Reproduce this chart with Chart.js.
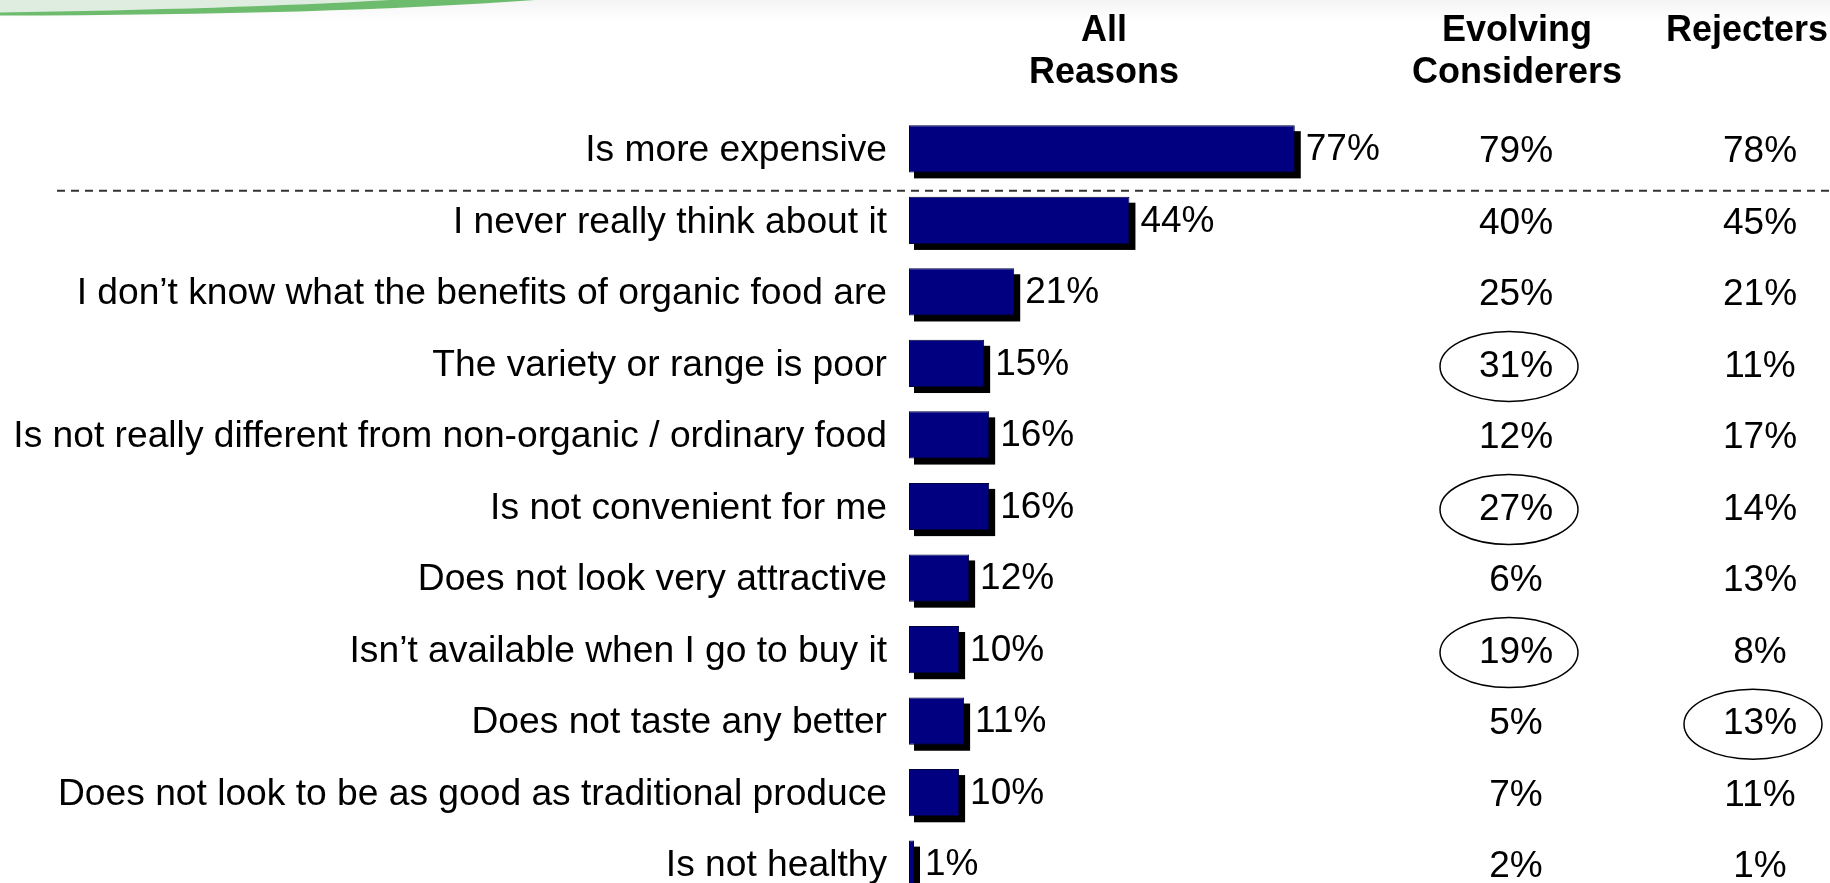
<!DOCTYPE html>
<html>
<head>
<meta charset="utf-8">
<title>Reasons for not buying organic food</title>
<script src="https://cdn.jsdelivr.net/npm/chart.js@4.4.1/dist/chart.umd.min.js"></script>
<style>
    html, body { margin: 0; padding: 0; background: #ffffff; overflow: hidden; }
    #wrap { position: absolute; left: 0; top: 0; width: 1830px; height: 900px; }
</style>
</head>
<body>
<div id="wrap"><canvas id="reasonsChart" width="1830" height="900"></canvas></div>
<script>
const reasons = [
    "Is more expensive",
    "I never really think about it",
    "I don\u2019t know what the benefits of organic food are",
    "The variety or range is poor",
    "Is not really different from non-organic / ordinary food",
    "Is not convenient for me",
    "Does not look very attractive",
    "Isn\u2019t available when I go to buy it",
    "Does not taste any better",
    "Does not look to be as good as traditional produce",
    "Is not healthy"
];
const allReasons = [77, 44, 21, 15, 16, 16, 12, 10, 11, 10, 1];
const evolvingConsiderers = [79, 40, 25, 31, 12, 27, 6, 19, 5, 7, 2];
const rejecters = [78, 45, 21, 11, 17, 14, 13, 8, 13, 11, 1];
const evolvingCircled = ["The variety or range is poor", "Is not convenient for me", "Isn\u2019t available when I go to buy it"];
const rejectersCircled = ["Does not taste any better"];
const headers = [["All", "Reasons"], ["Evolving", "Considerers"], ["Rejecters"]];

const FONT = "'Liberation Sans', Arial, sans-serif";

document.addEventListener("DOMContentLoaded", function () {
    // green swoosh in the top-left corner
    const backdrop = {
        id: "backdrop",
        beforeDraw(chart) {
            const ctx = chart.ctx;
            ctx.save();
            const g = ctx.createLinearGradient(0, 0, 0, 22);
            g.addColorStop(0, "#f4f4f4");
            g.addColorStop(1, "#ffffff");
            ctx.fillStyle = g;
            ctx.fillRect(0, 0, chart.width, 22);

            ctx.fillStyle = "#dfede0";
            ctx.beginPath();
            ctx.moveTo(0, 0);
            ctx.lineTo(0, 13);
            ctx.quadraticCurveTo(230, 9, 390, 0);
            ctx.closePath();
            ctx.fill();

            ctx.fillStyle = "#6dbb6d";
            ctx.beginPath();
            ctx.moveTo(0, 12.5);
            ctx.quadraticCurveTo(230, 9, 390, 0);
            ctx.lineTo(535, 0);
            ctx.quadraticCurveTo(330, 15, 0, 15.5);
            ctx.closePath();
            ctx.fill();
            ctx.restore();
        }
    };

    // hard black drop shadow behind each bar
    const barShadow = {
        id: "barShadow",
        beforeDatasetsDraw(chart) {
            const ctx = chart.ctx;
            ctx.save();
            ctx.fillStyle = "#000000";
            chart.getDatasetMeta(0).data.forEach(bar => {
                const p = bar.getProps(["x", "y", "base", "height"], true);
                ctx.fillRect(p.base + 5, p.y - p.height / 2 + 6, p.x - p.base + 1, p.height);
            });
            ctx.restore();
        }
    };

    const tableText = {
        id: "tableText",
        afterDraw(chart) {
            const ctx = chart.ctx;
            const yScale = chart.scales.y;
            ctx.save();
            ctx.fillStyle = "#000000";

            // column headers
            ctx.font = "bold 36px " + FONT;
            ctx.textAlign = "center";
            ctx.textBaseline = "alphabetic";
            const headerX = [1104, 1517, 1747];
            headers.forEach((lines, c) => {
                lines.forEach((t, k) => ctx.fillText(t, headerX[c], 41 + k * 42));
            });

            // values next to the bars
            ctx.font = "37px " + FONT;
            ctx.textAlign = "left";
            ctx.textBaseline = "middle";
            chart.getDatasetMeta(0).data.forEach((bar, i) => {
                ctx.fillText(allReasons[i] + "%", bar.x + 11, bar.y + 1);
            });

            // segment columns
            ctx.textAlign = "center";
            const cols = [
                { x: 1516, values: evolvingConsiderers, circled: evolvingCircled },
                { x: 1760, values: rejecters, circled: rejectersCircled }
            ];
            cols.forEach(col => {
                col.values.forEach((v, i) => {
                    const y = yScale.getPixelForValue(i);
                    ctx.fillText(v + "%", col.x, y + 3);
                    if (col.circled.includes(reasons[i])) {
                        ctx.beginPath();
                        ctx.lineWidth = 1.5;
                        ctx.strokeStyle = "#000000";
                        ctx.ellipse(col.x - 7, y + 3, 69, 35, 0, 0, Math.PI * 2);
                        ctx.stroke();
                    }
                });
            });

            // dashed divider under the first reason
            const yDash = yScale.getPixelForValue(0) + 42;
            ctx.beginPath();
            ctx.setLineDash([8, 6]);
            ctx.lineWidth = 2;
            ctx.strokeStyle = "#333333";
            ctx.moveTo(57, yDash);
            ctx.lineTo(chart.width, yDash);
            ctx.stroke();
            ctx.restore();
        }
    };

    new Chart(document.getElementById("reasonsChart").getContext("2d"), {
        type: "bar",
        data: {
            labels: reasons,
            datasets: [{
                label: "All Reasons",
                data: allReasons,
                backgroundColor: "#000080",
                borderColor: "#00003a",
                borderWidth: 1,
                borderSkipped: false,
                barPercentage: 0.66,
                categoryPercentage: 1
            }]
        },
        options: {
            indexAxis: "y",
            responsive: false,
            animation: false,
            devicePixelRatio: 1,
            layout: { padding: { left: 0, right: 420, top: 113, bottom: 0 } },
            plugins: {
                legend: { display: false },
                tooltip: { enabled: false }
            },
            scales: {
                x: { display: false, min: 0, max: 100 },
                y: {
                    grid: { display: false, drawTicks: false },
                    border: { display: false },
                    ticks: {
                        color: "#000000",
                        padding: 22,
                        labelOffset: 2,
                        font: { family: FONT, size: 37.2 }
                    },
                    afterFit(scale) {
                        scale.width = 909;
                        scale.paddingTop = 0;
                        scale.paddingBottom = 0;
                    }
                }
            }
        },
        plugins: [backdrop, barShadow, tableText]
    });
});
</script>
</body>
</html>
